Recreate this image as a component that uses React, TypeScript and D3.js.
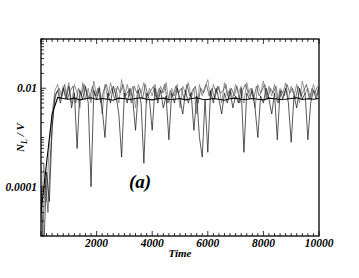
import React from 'react'
import * as d3 from 'd3'

// time axis for the sampled runs (every 100 steps)
const times = d3.range(0, 10001, 100)
// second sampled run, shifted by half a step
const shiftedTimes = d3.range(50, 10000, 100)
// time axis for the averaged curve (every 200 steps)
const meanTimes = d3.range(0, 10001, 200)

// N_L / V in units of 1e-3
const grayRun = [
  0.02, 0.3, 0.05, 0.8, 3, 9, 12, 6, 11, 7,
  13, 5, 12, 8, 4, 13, 6, 10, 5, 14,
  7, 11, 3, 12, 6, 13, 8, 10, 5, 15,
  6, 12, 7, 11, 4, 12, 8, 13, 5, 10,
  7, 12, 6, 11, 8, 13, 5, 10, 7, 12,
  4, 11, 8, 13, 6, 10, 3, 12, 7, 11,
  15, 6, 12, 8, 11, 5, 13, 7, 10, 6,
  12, 8, 11, 5, 13, 7, 10, 4, 12, 8,
  14, 6, 11, 7, 12, 5, 10, 8, 13, 6,
  11, 7, 12, 5, 14, 8, 10, 6, 12, 7,
  11,
]

const darkRun = [
  0.008, 0.15, 0.03, 0.6, 4, 8, 10, 7, 12, 6,
  9, 11, 5, 10, 7, 12, 8, 6, 11, 7,
  10, 5, 9, 12, 7, 10, 6, 11, 8, 12,
  7, 9, 5, 11, 8, 10, 6, 12, 7, 9,
  11, 6, 10, 8, 12, 5, 9, 7, 11, 8,
  10, 6, 12, 7, 9, 11, 5, 10, 8, 12,
  7, 10, 6, 11, 8, 9, 12, 6, 10, 7,
  11, 5, 9, 12, 8, 10, 6, 11, 7, 9,
  12, 6, 10, 8, 11, 5, 9, 7, 12, 8,
  10, 6, 11, 7, 9, 12, 6, 10, 8, 11,
]

const blackRun = [
  0.1, 0.005, 0.2, 0.05, 1.5, 7, 9, 5, 10, 6,
  11, 4, 8, 0.6, 9, 6, 11, 5, 0.1, 9,
  6, 10, 4, 1, 8, 5, 11, 7, 3, 0.4,
  8, 5, 10, 6, 1.4, 9, 5, 0.3, 8, 6,
  1.4, 10, 5, 9, 4, 7, 0.9, 8, 5, 10,
  6, 3, 9, 5, 8, 1.4, 7, 1, 0.4, 6,
  0.5, 9, 5, 10, 6, 3, 8, 5, 9, 4,
  7, 5, 10, 0.5, 8, 6, 9, 4, 1, 7,
  5, 10, 6, 3, 8, 0.9, 9, 6, 10, 5,
  0.8, 7, 4, 10, 6, 8, 0.9, 5, 9, 6,
  10,
]

const meanRun = [
  0.03, 0.3, 3, 6.5, 6.2, 6.0, 6.3, 5.8, 6.1, 6.4,
  5.9, 6.2, 6.0, 5.7, 6.3, 6.1, 5.9, 6.2, 6.4, 6.0,
  5.8, 6.1, 6.3, 5.9, 6.0, 6.2, 5.8, 6.1, 6.4, 6.0,
  5.9, 6.2, 6.0, 5.7, 6.1, 6.3, 6.0, 5.9, 6.2, 6.0,
  5.8, 6.3, 6.1, 5.9, 6.0, 6.2, 6.4, 5.9, 6.1, 6.0,
  6.2,
]

const xLabels = [2000, 4000, 6000, 8000, 10000]
const yLabels = [0.01, 0.0001]
const yLabelText = ['0.01', '0.0001']

const W = 359, H = 278
const margin = { top: 39, right: 40, bottom: 42, left: 41 }
const font = "'Liberation Serif', 'Times New Roman', serif"

export default function App() {
  const x = d3.scaleLinear().domain([0, 10000]).range([margin.left, W - margin.right])
  const y = d3.scaleLog().domain([1e-5, 0.1]).range([H - margin.bottom, margin.top])

  const line = d3.line<[number, number]>()
    .x(d => x(d[0]))
    .y(d => y(d[1] * 1e-3))

  const pair = (ts: number[], vs: number[]) => ts.map((t, i) => [t, vs[i]] as [number, number])

  const x0 = x.range()[0], x1 = x.range()[1]
  const yb = y.range()[0], yt = y.range()[1]

  const xMinor = d3.range(0, 10001, 200)
  const yTicks = y.ticks()

  return (
    <svg width={W} height={H} style={{ position: 'absolute', left: 0, top: 0, background: '#fff' }}>
      <defs>
        <clipPath id="plot">
          <rect x={x0} y={yt} width={x1 - x0} height={yb - yt} />
        </clipPath>
      </defs>
      <g clipPath="url(#plot)" fill="none">
        <path d={line(pair(times, grayRun)) || ''} stroke="#8a8a8a" strokeWidth={0.9} />
        <path d={line(pair(shiftedTimes, darkRun)) || ''} stroke="#555" strokeWidth={0.8} />
        <path d={line(pair(times, blackRun)) || ''} stroke="#111" strokeWidth={0.7} />
        <path d={line(pair(meanTimes, meanRun)) || ''} stroke="#000" strokeWidth={1.1} />
      </g>

      {/* ticks on bottom and top */}
      <g stroke="#000" strokeWidth={0.8}>
        {xMinor.map(t => {
          const major = t % 2000 === 0
          const len = major ? 5 : 3
          return (
            <g key={'xt' + t}>
              <line x1={x(t)} x2={x(t)} y1={yb} y2={yb - len} />
              <line x1={x(t)} x2={x(t)} y1={yt} y2={yt + len} />
            </g>
          )
        })}
        {yTicks.map((v, i) => {
          const major = yLabels.some(l => Math.abs(l - v) / l < 1e-6)
          const len = major ? 5 : 3
          return <line key={'yt' + i} x1={x0} x2={x0 + len} y1={y(v)} y2={y(v)} />
        })}
      </g>

      <rect x={x0} y={yt} width={x1 - x0} height={yb - yt} fill="none" stroke="#000" strokeWidth={1.3} />

      <g fontFamily={font} fontWeight="bold" fontStyle="italic" fontSize={11.5} fill="#000">
        {xLabels.map(t => (
          <text key={'xl' + t} x={x(t)} y={yb + 11} textAnchor="middle">{t}</text>
        ))}
        {yLabels.map((v, i) => (
          <text key={'yl' + i} x={x0 - 4} y={y(v)} dy="0.35em" textAnchor="end">{yLabelText[i]}</text>
        ))}
        <text x={(x0 + x1) / 2} y={257} textAnchor="middle" fontSize={11}>Time</text>
        <text transform={`translate(24,${(yt + yb) / 2}) rotate(-90)`} textAnchor="middle" fontSize={11}>
          N<tspan fontSize={8} dy={3}>L</tspan><tspan dy={-3}> / V</tspan>
        </text>
        <text x={140} y={188} textAnchor="middle" fontSize={19}>(a)</text>
      </g>
    </svg>
  )
}
